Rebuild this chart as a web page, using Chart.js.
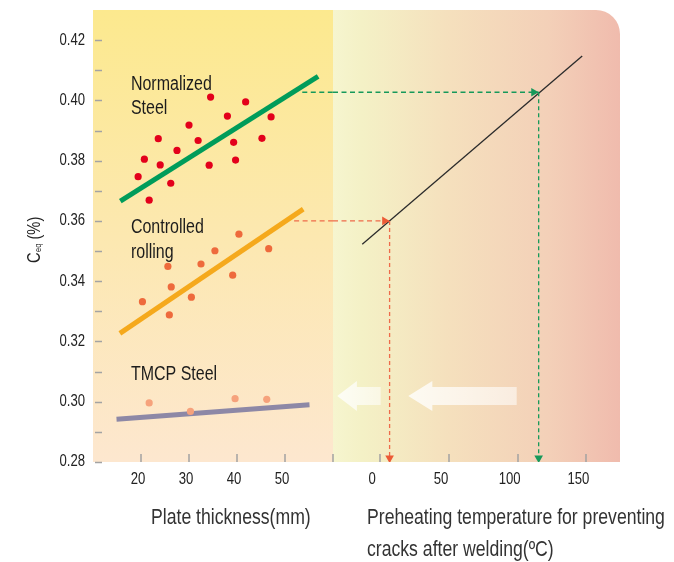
<!DOCTYPE html>
<html>
<head>
<meta charset="utf-8">
<title>Ceq vs plate thickness and preheating temperature</title>
<script src="https://cdn.jsdelivr.net/npm/chart.js@4.4.1/dist/chart.umd.min.js"></script>
<style>
  html, body { margin: 0; padding: 0; background: #fff; }
  #wrap { width: 674px; height: 562px; }
</style>
</head>
<body>
<div id="wrap"><canvas id="ceqChart" width="674" height="562"></canvas></div>
<script>
// --- data ---------------------------------------------------------------
// plate thickness (mm) / Ceq (%) for each steel grade
const normThick = [19.4, 20.7, 21.7, 23.6, 24.0, 26.2, 27.5, 30.0, 31.9, 34.2, 34.5, 38.0, 39.3, 39.7, 41.8, 45.2, 47.1];
const normCeq   = [0.3747, 0.3805, 0.3669, 0.3873, 0.3786, 0.3725, 0.3834, 0.3918, 0.3867, 0.3785, 0.4011, 0.3948, 0.3861, 0.3802, 0.3995, 0.3874, 0.3945];

const ctrlThick = [20.3, 25.6, 25.9, 26.3, 30.5, 32.5, 35.4, 39.1, 40.4, 46.6];
const ctrlCeq   = [0.3332, 0.3449, 0.3288, 0.3381, 0.3347, 0.3457, 0.3501, 0.3420, 0.3556, 0.3508];

const tmcpThick = [21.7, 30.3, 39.6, 46.2];
const tmcpCeq   = [0.2996, 0.2968, 0.3010, 0.3008];

// fitted trend lines [start, end]
const normFitThick = [15.7, 56.9];
const normFitCeq   = [0.3666, 0.4080];
const ctrlFitThick = [15.6, 53.8];
const ctrlFitCeq   = [0.3227, 0.3639];
const tmcpFitThick = [14.9, 55.1];
const tmcpFitCeq   = [0.2942, 0.2990];

// Ceq -> required preheating temperature (°C)
const preheatTemp = [-13.1, 147.0];
const preheatCeq  = [0.3523, 0.4147];

// read-off examples: start thickness, Ceq, resulting temperature
const normReadThick = 53.6, normReadCeq = 0.4027, normReadTemp = 115.3;
const ctrlReadThick = 51.9, ctrlReadCeq = 0.3600, ctrlReadTemp = 6.8;

// axes
const thickMin = 10, thickMax = 60;
const tempMin = -34.4, tempMax = 174.5;
const ceqMin = 0.28, ceqMax = 0.43;
const thickTicks = [20, 30, 40, 50, 60];
const thickTickLabels = ['20', '30', '40', '50', ''];
const tempTicks = [0, 50, 100, 150];
const tempTickLabels = ['0', '50', '100', '150'];
const ceqTicks = [0.28, 0.29, 0.30, 0.31, 0.32, 0.33, 0.34, 0.35, 0.36, 0.37, 0.38, 0.39, 0.40, 0.41, 0.42];
const ceqTickLabels = ['0.28', '', '0.30', '', '0.32', '', '0.34', '', '0.36', '', '0.38', '', '0.40', '', '0.42'];

// in-plot labels (thickness, Ceq of baseline)
const groupLabels = [
  { text: 'Normalized', t: 17.9, v: 0.4034 },
  { text: 'Steel', t: 17.9, v: 0.3955 },
  { text: 'Controlled', t: 17.9, v: 0.3559 },
  { text: 'rolling', t: 17.9, v: 0.3476 },
  { text: 'TMCP Steel', t: 17.9, v: 0.3072 }
];

// "lower preheat" arrows on the temperature panel: tip, head back, tail (°C)
const hintArrows = [
  { tip: -31.3, head: -17.0, tail: 0.3 },
  { tip: 20.4, head: 37.9, tail: 99.3 }
];
const hintArrowCeq = 0.3019;

// narrow face: Liberation Sans squeezed horizontally
const FONT = "'Liberation Sans', Arial, sans-serif";
const NARROW = 0.82;

function pts(xs, ys) {
  return xs.map((x, i) => ({ x: x, y: ys[i] }));
}

function fixedTicks(values) {
  return function (scale) {
    scale.ticks = values.map(v => ({ value: v }));
  };
}

function narrowText(ctx, text, x, y, size, align, baseline, color) {
  ctx.save();
  ctx.translate(x, y);
  ctx.scale(NARROW, 1);
  ctx.font = size + 'px ' + FONT;
  ctx.fillStyle = color;
  ctx.textAlign = align;
  ctx.textBaseline = baseline;
  ctx.fillText(text, 0, 0);
  ctx.restore();
}

// --- plugins ------------------------------------------------------------
const panelBackground = {
  id: 'panelBackground',
  beforeDraw(chart) {
    const { ctx, chartArea } = chart;
    const xs = chart.scales.x, xt = chart.scales.x2;
    const top = chartArea.top, bottom = chartArea.bottom;
    ctx.save();

    let g = ctx.createLinearGradient(0, top, 0, bottom);
    g.addColorStop(0, '#fce98e');
    g.addColorStop(0.5, '#fce8b0');
    g.addColorStop(1, '#fde7cf');
    ctx.fillStyle = g;
    ctx.fillRect(xs.left, top, xs.right - xs.left, bottom - top);

    g = ctx.createLinearGradient(xt.left, 0, xt.right, 0);
    g.addColorStop(0, '#f6f5cf');
    g.addColorStop(0.1, '#f4f1c6');
    g.addColorStop(0.4, '#f5e0bd');
    g.addColorStop(0.75, '#f3d0b8');
    g.addColorStop(1, '#f0bbad');
    ctx.fillStyle = g;
    const r = 24;
    ctx.beginPath();
    ctx.moveTo(xt.left, top);
    ctx.lineTo(xt.right - r, top);
    ctx.arcTo(xt.right, top, xt.right, top + r, r);
    ctx.lineTo(xt.right, bottom);
    ctx.lineTo(xt.left, bottom);
    ctx.closePath();
    ctx.fill();
    ctx.restore();
  },
  beforeDatasetsDraw(chart) {
    const { ctx } = chart;
    const xt = chart.scales.x2, y = chart.scales.y;
    const yc = y.getPixelForValue(hintArrowCeq);
    const headH = y.getPixelForValue(hintArrowCeq - 0.005) - yc;
    const bodyH = y.getPixelForValue(hintArrowCeq - 0.003) - yc;
    ctx.save();
    hintArrows.forEach(a => {
      const xTip = xt.getPixelForValue(a.tip);
      const xHead = xt.getPixelForValue(a.head);
      const xTail = xt.getPixelForValue(a.tail);
      const g = ctx.createLinearGradient(xTip, 0, xTail, 0);
      g.addColorStop(0, 'rgba(255,255,255,0.8)');
      g.addColorStop(1, 'rgba(255,255,255,0.55)');
      ctx.fillStyle = g;
      ctx.beginPath();
      ctx.moveTo(xTip, yc);
      ctx.lineTo(xHead, yc - headH);
      ctx.lineTo(xHead, yc - bodyH);
      ctx.lineTo(xTail, yc - bodyH);
      ctx.lineTo(xTail, yc + bodyH);
      ctx.lineTo(xHead, yc + bodyH);
      ctx.lineTo(xHead, yc + headH);
      ctx.closePath();
      ctx.fill();
    });
    ctx.restore();
  }
};

// tick marks sit inside the plot, labels are drawn in the narrow face
const innerTicks = {
  id: 'innerTicks',
  afterDatasetsDraw(chart) {
    const { ctx, chartArea } = chart;
    ctx.save();
    ctx.strokeStyle = '#a3a3a3';
    ctx.lineWidth = 1.5;
    ctx.beginPath();
    const y = chart.scales.y;
    y.ticks.forEach(t => {
      const py = Math.round(y.getPixelForValue(t.value)) + 0.5;
      ctx.moveTo(chartArea.left + 2, py);
      ctx.lineTo(chartArea.left + 9, py);
    });
    ['x', 'x2'].forEach(id => {
      const s = chart.scales[id];
      s.ticks.forEach(t => {
        const px = Math.round(s.getPixelForValue(t.value));
        ctx.moveTo(px, chartArea.bottom);
        ctx.lineTo(px, chartArea.bottom - 8);
      });
    });
    ctx.stroke();
    ctx.restore();

    ceqTicks.forEach((v, i) => {
      if (!ceqTickLabels[i]) return;
      narrowText(ctx, ceqTickLabels[i], chartArea.left - 8, y.getPixelForValue(v), 16, 'right', 'middle', '#222');
    });
    const xs = chart.scales.x, xt = chart.scales.x2;
    thickTicks.forEach((v, i) => {
      narrowText(ctx, thickTickLabels[i], xs.getPixelForValue(v) - 3, chartArea.bottom + 18, 16, 'center', 'middle', '#222');
    });
    tempTicks.forEach((v, i) => {
      narrowText(ctx, tempTickLabels[i], xt.getPixelForValue(v) - 8, chartArea.bottom + 18, 16, 'center', 'middle', '#222');
    });
  }
};

const chartText = {
  id: 'chartText',
  afterDraw(chart) {
    const { ctx } = chart;
    const xs = chart.scales.x, y = chart.scales.y;

    // group labels inside the thickness panel
    groupLabels.forEach(l => {
      narrowText(ctx, l.text, xs.getPixelForValue(l.t), y.getPixelForValue(l.v), 19.5, 'left', 'alphabetic', '#1c1c1c');
    });

    // axis titles
    narrowText(ctx, 'Plate thickness(mm)', 151, 524, 21.5, 'left', 'alphabetic', '#333');
    narrowText(ctx, 'Preheating temperature for preventing', 367, 524, 21.5, 'left', 'alphabetic', '#333');
    narrowText(ctx, 'cracks after welding(\u00baC)', 367, 556, 21.5, 'left', 'alphabetic', '#333');

    // rotated y title: C_eq (%)
    ctx.save();
    ctx.translate(40, 240);
    ctx.rotate(-Math.PI / 2);
    ctx.scale(NARROW, 1);
    ctx.fillStyle = '#222';
    ctx.textBaseline = 'alphabetic';
    const big = '18px ' + FONT, small = '9px ' + FONT;
    ctx.font = big;
    const wC = ctx.measureText('C').width;
    const wP = ctx.measureText(' (%)').width;
    ctx.font = small;
    const wE = ctx.measureText('eq').width;
    const x0 = -(wC + wE + wP) / 2;
    ctx.font = big;
    ctx.fillText('C', x0, 0);
    ctx.font = small;
    ctx.fillText('eq', x0 + wC + 0.5, 1);
    ctx.font = big;
    ctx.fillText(' (%)', x0 + wC + wE + 0.5, 0);
    ctx.restore();
  }
};

// --- chart --------------------------------------------------------------
const greenDash = '#16995a';
const redDash = '#ee6b4a';

const datasets = [
  { type: 'scatter', xAxisID: 'x', data: pts(normThick, normCeq), backgroundColor: '#e3001b', pointRadius: 3.6, borderWidth: 0, order: 1 },
  { type: 'scatter', xAxisID: 'x', data: pts(ctrlThick, ctrlCeq), backgroundColor: '#ee6a3c', pointRadius: 3.6, borderWidth: 0, order: 1 },
  { type: 'scatter', xAxisID: 'x', data: pts(tmcpThick, tmcpCeq), backgroundColor: '#f6a27c', pointRadius: 3.6, borderWidth: 0, order: 1 },

  { type: 'line', xAxisID: 'x', data: pts(normFitThick, normFitCeq), borderColor: '#009c5a', borderWidth: 5, pointRadius: 0, order: 5 },
  { type: 'line', xAxisID: 'x', data: pts(ctrlFitThick, ctrlFitCeq), borderColor: '#f5a91c', borderWidth: 5, pointRadius: 0, order: 5 },
  { type: 'line', xAxisID: 'x', data: pts(tmcpFitThick, tmcpFitCeq), borderColor: '#8d88a6', borderWidth: 5, pointRadius: 0, order: 5 },

  { type: 'line', xAxisID: 'x2', data: pts(preheatTemp, preheatCeq), borderColor: '#2b2b2b', borderWidth: 1.3, pointRadius: 0, order: 4 },

  // normalized read-off
  { type: 'line', xAxisID: 'x', data: pts([normReadThick, thickMax], [normReadCeq, normReadCeq]), borderColor: greenDash, borderWidth: 1.3, borderDash: [5, 3.5], pointRadius: 0, order: 3 },
  { type: 'line', xAxisID: 'x2', data: pts([tempMin, normReadTemp], [normReadCeq, normReadCeq]), borderColor: greenDash, borderWidth: 1.3, borderDash: [5, 3.5], pointRadius: 0, order: 3 },
  { type: 'line', xAxisID: 'x2', data: pts([normReadTemp, normReadTemp], [normReadCeq, ceqMin]), borderColor: greenDash, borderWidth: 1.3, borderDash: [4, 3], pointRadius: 0, order: 3 },
  { type: 'scatter', xAxisID: 'x2', data: [{ x: normReadTemp - 3.6, y: normReadCeq }], pointStyle: 'triangle', rotation: 90, pointRadius: 5, backgroundColor: greenDash, borderWidth: 0, order: 2 },
  { type: 'scatter', xAxisID: 'x2', data: [{ x: normReadTemp, y: 0.2813 }], pointStyle: 'triangle', rotation: 180, pointRadius: 5, backgroundColor: greenDash, borderWidth: 0, order: 2 },

  // controlled rolling read-off
  { type: 'line', xAxisID: 'x', data: pts([ctrlReadThick, thickMax], [ctrlReadCeq, ctrlReadCeq]), borderColor: redDash, borderWidth: 1.3, borderDash: [5, 3.5], pointRadius: 0, order: 3 },
  { type: 'line', xAxisID: 'x2', data: pts([tempMin, ctrlReadTemp], [ctrlReadCeq, ctrlReadCeq]), borderColor: redDash, borderWidth: 1.3, borderDash: [5, 3.5], pointRadius: 0, order: 3 },
  { type: 'line', xAxisID: 'x2', data: pts([ctrlReadTemp, ctrlReadTemp], [ctrlReadCeq, ceqMin]), borderColor: redDash, borderWidth: 1.3, borderDash: [4, 3], pointRadius: 0, order: 3 },
  { type: 'scatter', xAxisID: 'x2', data: [{ x: ctrlReadTemp - 3.6, y: ctrlReadCeq }], pointStyle: 'triangle', rotation: 90, pointRadius: 5, backgroundColor: '#ec5a35', borderWidth: 0, order: 2 },
  { type: 'scatter', xAxisID: 'x2', data: [{ x: ctrlReadTemp, y: 0.2813 }], pointStyle: 'triangle', rotation: 180, pointRadius: 5, backgroundColor: '#ec5a35', borderWidth: 0, order: 2 }
];

function axis(extra) {
  return Object.assign({
    type: 'linear',
    grid: { display: false, drawTicks: false },
    border: { display: false },
    ticks: { display: false }
  }, extra);
}

new Chart(document.getElementById('ceqChart'), {
  data: { datasets: datasets },
  options: {
    responsive: false,
    animation: false,
    layout: { padding: { top: 10, right: 54, bottom: 0, left: 0 } },
    plugins: { legend: { display: false }, tooltip: { enabled: false } },
    elements: { line: { tension: 0, borderCapStyle: 'butt' } },
    scales: {
      x: axis({
        position: 'bottom', stack: 'bottom', stackWeight: 240,
        min: thickMin, max: thickMax,
        afterBuildTicks: fixedTicks(thickTicks),
        afterFit(s) { s.height = 100; }
      }),
      x2: axis({
        position: 'bottom', stack: 'bottom', stackWeight: 287,
        min: tempMin, max: tempMax,
        afterBuildTicks: fixedTicks(tempTicks),
        afterFit(s) { s.height = 100; }
      }),
      y: axis({
        position: 'left',
        min: ceqMin, max: ceqMax,
        afterBuildTicks: fixedTicks(ceqTicks),
        afterFit(s) { s.width = 93; }
      })
    }
  },
  plugins: [panelBackground, innerTicks, chartText]
});
</script>
</body>
</html>
